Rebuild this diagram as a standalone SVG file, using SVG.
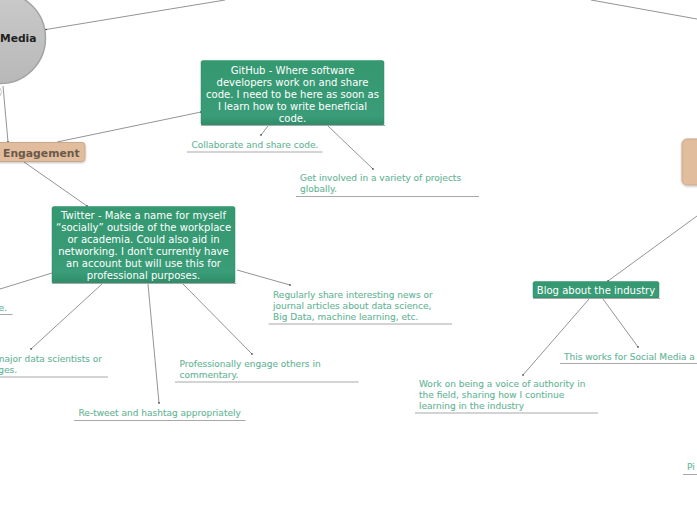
<svg xmlns="http://www.w3.org/2000/svg" width="697" height="520" viewBox="0 0 697 520">
<style>
text{font-family:"DejaVu Sans",Verdana,sans-serif}
.t{font-size:10.05px;fill:#fff;text-anchor:middle}
.s{font-size:9px;fill:#67b597;stroke:#67b597;stroke-width:.12}
.u{stroke:#a8a8a8;stroke-width:1;fill:none}
.c{stroke:#666;stroke-width:.7;fill:none}
.g{fill:url(#gr);stroke:#2f8a68;stroke-width:.5}
.b{fill:#e2bd9d;stroke:#c9a88c;stroke-width:1;filter:url(#sh)}
.e{fill:url(#gc);stroke:#a3a3a3;stroke-width:1.5}
.d{fill:#111}
</style>
<defs>
<linearGradient id="gr" x1="0" y1="0" x2="0" y2="1"><stop offset="0" stop-color="#349870"/><stop offset=".85" stop-color="#3a9c78"/><stop offset="1" stop-color="#2f8d68"/></linearGradient>
<linearGradient id="gc" x1="0" y1="0" x2="0" y2="1"><stop offset="0" stop-color="#cacaca"/><stop offset="1" stop-color="#b8b8b8"/></linearGradient>
<filter id="sh" x="-10%" y="-20%" width="120%" height="140%"><feDropShadow dx="0" dy="1" stdDeviation="1" flood-color="#000" flood-opacity=".25"/></filter>
</defs>
<g id="connectors">
<path class="c" d="M46 29.500L225 0"/>
<path class="c" d="M591 0L697 19"/>
<path class="c" d="M3 86L8 142"/>
<path class="c" d="M57 142L201 112"/>
<path class="c" d="M24 162L87 206"/>
<path class="c" d="M268 126L261 135"/>
<path class="c" d="M328 126L373 169"/>
<path class="c" d="M52 273L0 289"/>
<path class="c" d="M102 284L31 349"/>
<path class="c" d="M148 284L159 403"/>
<path class="c" d="M183 284L252 354"/>
<path class="c" d="M237 270L290 285"/>
<path class="c" d="M697 216L608 281"/>
<path class="c" d="M589 299L523 375"/>
<path class="c" d="M603 299L638 347"/>
<circle class="d" cx="46" cy="29.500" r=".8"/><circle class="d" cx="8" cy="142" r=".8"/><circle class="d" cx="201" cy="112" r=".8"/><circle class="d" cx="87" cy="206" r=".8"/><circle class="d" cx="261" cy="135" r=".8"/><circle class="d" cx="373" cy="169" r=".8"/><circle class="d" cx="31" cy="349" r=".8"/><circle class="d" cx="159" cy="403" r=".8"/><circle class="d" cx="252" cy="354" r=".8"/><circle class="d" cx="290" cy="285" r=".8"/><circle class="d" cx="608" cy="281" r=".8"/><circle class="d" cx="523" cy="375" r=".8"/><circle class="d" cx="638" cy="347" r=".8"/>
</g>
<g id="social-media">
<circle class="e" cx="0" cy="38" r="45.500"/>
<path d="M0 88Q3 91 0 96" fill="none" stroke="#c8c8c8" stroke-width="1"/>
<text x="0" y="42" font-size="10.700px" font-weight="700" fill="#222">Media</text>
</g>
<g id="engagement">
<rect class="b" x="-40" y="142.500" width="125" height="19" rx="3"/>
<text x="3" y="157" font-size="10.800px" font-weight="700" fill="#6b5a4a">Engagement</text>
</g>
<g id="github">
<rect class="g" x="201" y="60.500" width="183" height="65" rx="2"/>
<path class="u" d="M201 125.500H385"/>
<text class="t" x="292.500" y="73.500">GitHub - Where software</text>
<text class="t" x="292.500" y="85.500">developers work on and share</text>
<text class="t" x="292.500" y="97.500">code. I need to be here as soon as</text>
<text class="t" x="292.500" y="109.500">I learn how to write beneficial</text>
<text class="t" x="292.500" y="121.500">code.</text>
</g>
<g id="collaborate"><text class="s" x="191.500" y="148">Collaborate and share code.</text><path class="u" d="M187 152H322.500"/></g>
<g id="get-involved"><text class="s" x="300" y="181">Get involved in a variety of projects</text><text class="s" x="300" y="192">globally.</text><path class="u" d="M296 196.500H479"/></g>
<g id="twitter">
<rect class="g" x="52" y="206.500" width="183" height="77" rx="2"/>
<path class="u" d="M52 283.500H236"/>
<text class="t" x="143.500" y="219">Twitter - Make a name for myself</text>
<text class="t" x="143.500" y="231">“socially” outside of the workplace</text>
<text class="t" x="143.500" y="243">or academia. Could also aid in</text>
<text class="t" x="143.500" y="255">networking. I don't currently have</text>
<text class="t" x="143.500" y="267">an account but will use this for</text>
<text class="t" x="143.500" y="279">professional purposes.</text>
</g>
<g id="twitter-left"><text class="s" x="7" y="311" text-anchor="end">e.</text><path class="u" d="M0 314.500H12.500"/></g>
<g id="data-scientists"><text class="s" x="102" y="362" text-anchor="end">major data scientists or</text><text class="s" x="17" y="373" text-anchor="end">ges.</text><path class="u" d="M0 377H108"/></g>
<g id="retweet"><text class="s" x="78.500" y="416">Re-tweet and hashtag appropriately</text><path class="u" d="M74 420.500H245.500"/></g>
<g id="engage-others"><text class="s" x="179.500" y="367">Professionally engage others in</text><text class="s" x="179.500" y="378">commentary.</text><path class="u" d="M175 382H358.500"/></g>
<g id="share-news"><text class="s" x="273" y="298">Regularly share interesting news or</text><text class="s" x="273" y="309">journal articles about data science,</text><text class="s" x="273" y="320">Big Data, machine learning, etc.</text><path class="u" d="M268.500 324H452"/></g>
<g id="blog">
<rect class="g" x="533" y="281.500" width="126" height="17" rx="2"/>
<path class="u" d="M533 298.500H660"/>
<text class="t" x="596" y="294">Blog about the industry</text>
</g>
<g id="social-media-note"><text class="s" x="564" y="360">This works for Social Media a</text><path class="u" d="M560 363.500H697"/></g>
<g id="voice"><text class="s" x="419" y="387">Work on being a voice of authority in</text><text class="s" x="419" y="398">the field, sharing how I continue</text><text class="s" x="419" y="409">learning in the industry</text><path class="u" d="M415 413H598"/></g>
<g id="right-node"><rect class="b" x="682" y="139" width="40" height="46" rx="5"/></g>
<g id="pi-note"><text class="s" x="687" y="470">Pi</text><path class="u" d="M683 474.500H697"/></g>
</svg>
